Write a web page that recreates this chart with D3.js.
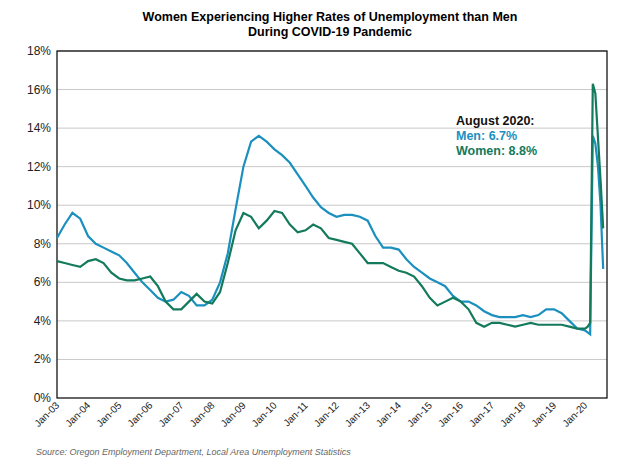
<!DOCTYPE html>
<html><head><meta charset="utf-8">
<script src="https://cdn.jsdelivr.net/npm/d3@7"></script>
<style>body{margin:0;background:#fff}svg{font-family:Arial,"Liberation Sans",sans-serif}</style>
</head><body><svg width="639" height="474"></svg>
<script>
// quarterly 2003-2019, then monthly 2020
let dates = []
for (let yr = 2003; yr <= 2019; yr++) [0, 3, 6, 9].forEach(m => dates.push(new Date(yr, m, 1)))
for (let m = 0; m < 8; m++) dates.push(new Date(2020, m, 1))

let men = [8.3,9.0,9.6,9.3, 8.4,8.0,7.8,7.6, 7.4,7.0,6.5,6.0, 5.6,5.2,5.0,5.1, 5.5,5.3,4.8,4.8,
  5.1,6.0,7.5,9.8, 12.0,13.3,13.6,13.3, 12.9,12.6,12.2,11.6, 11.0,10.4,9.9,9.6, 9.4,9.5,9.5,9.4,
  9.2,8.4,7.8,7.8, 7.7,7.2,6.8,6.5, 6.2,6.0,5.8,5.3, 5.0,5.0,4.8,4.5, 4.3,4.2,4.2,4.2,
  4.3,4.2,4.3,4.6, 4.6,4.4,4.0,3.6, 3.5,3.4,3.3,13.6,13.2,12.0,10.0,6.7]
let women = [7.1,7.0,6.9,6.8, 7.1,7.2,7.0,6.5, 6.2,6.1,6.1,6.2, 6.3,5.8,5.0,4.6, 4.6,5.0,5.4,5.0,
  4.9,5.5,7.0,8.7, 9.6,9.4,8.8,9.2, 9.7,9.6,9.0,8.6, 8.7,9.0,8.8,8.3, 8.2,8.1,8.0,7.5,
  7.0,7.0,7.0,6.8, 6.6,6.5,6.3,5.8, 5.2,4.8,5.0,5.2, 5.0,4.6,3.9,3.7, 3.9,3.9,3.8,3.7,
  3.8,3.9,3.8,3.8, 3.8,3.8,3.7,3.6, 3.6,3.7,3.9,16.3,15.8,13.5,11.3,8.8]
let tickYears = d3.range(2003, 2021)
let yTicks = d3.range(0, 19, 2)

let svg = d3.select('svg')
let mLeft = 57, mRight = 607, mTop = 51, mBottom = 398

let x = d3.scaleTime().domain([new Date(2003, 0, 1), new Date(2020, 8, 15)]).range([mLeft, mRight])
let y = d3.scaleLinear().domain([0, 18]).range([mBottom, mTop])

svg.append('g').selectAll('line').data(yTicks.slice(1)).enter().append('line')
  .attr('x1', mLeft).attr('x2', mRight).attr('y1', d => y(d)).attr('y2', d => y(d))
  .attr('stroke', '#c8c8c8').attr('stroke-width', 1)

svg.append('rect').attr('x', mLeft).attr('y', mTop).attr('width', mRight - mLeft).attr('height', mBottom - mTop)
  .attr('fill', 'none').attr('stroke', '#000').attr('stroke-width', 1.2)

svg.append('g').selectAll('text').data(yTicks).enter().append('text')
  .attr('x', mLeft - 6).attr('y', d => y(d) + 4).attr('text-anchor', 'end')
  .attr('font-size', 12).attr('fill', '#222').text(d => d + '%')

svg.append('g').selectAll('text').data(tickYears).enter().append('text')
  .attr('transform', d => `translate(${x(new Date(d, 0, 1)) + 3},${mBottom + 8}) rotate(-45)`)
  .attr('text-anchor', 'end').attr('font-size', 10).attr('fill', '#222')
  .text(d => 'Jan-' + String(d).slice(2))

let line = d3.line().x((d, i) => x(dates[i])).y(d => y(d))
svg.append('path').datum(men).attr('d', line).attr('fill', 'none').attr('stroke', '#1b90bf').attr('stroke-width', 2.2)
svg.append('path').datum(women).attr('d', line).attr('fill', 'none').attr('stroke', '#137a5c').attr('stroke-width', 2.2)

svg.append('text').attr('x', 330).attr('y', 21).attr('text-anchor', 'middle').attr('font-size', 12.5)
  .attr('font-weight', 'bold').text('Women Experiencing Higher Rates of Unemployment than Men')
svg.append('text').attr('x', 330).attr('y', 36).attr('text-anchor', 'middle').attr('font-size', 12.5)
  .attr('font-weight', 'bold').text('During COVID-19 Pandemic')

let ann = svg.append('g').attr('font-size', 12.5).attr('font-weight', 'bold')
ann.append('text').attr('x', 456).attr('y', 125).attr('fill', '#111').text('August 2020:')
ann.append('text').attr('x', 456).attr('y', 140).attr('fill', '#1b90bf').text('Men: 6.7%')
ann.append('text').attr('x', 456).attr('y', 155).attr('fill', '#137a5c').text('Women: 8.8%')

svg.append('text').attr('x', 36).attr('y', 455).attr('font-size', 9).attr('font-style', 'italic')
  .attr('fill', '#666').text('Source: Oregon Employment Department, Local Area Unemployment Statistics')
</script></body></html>
